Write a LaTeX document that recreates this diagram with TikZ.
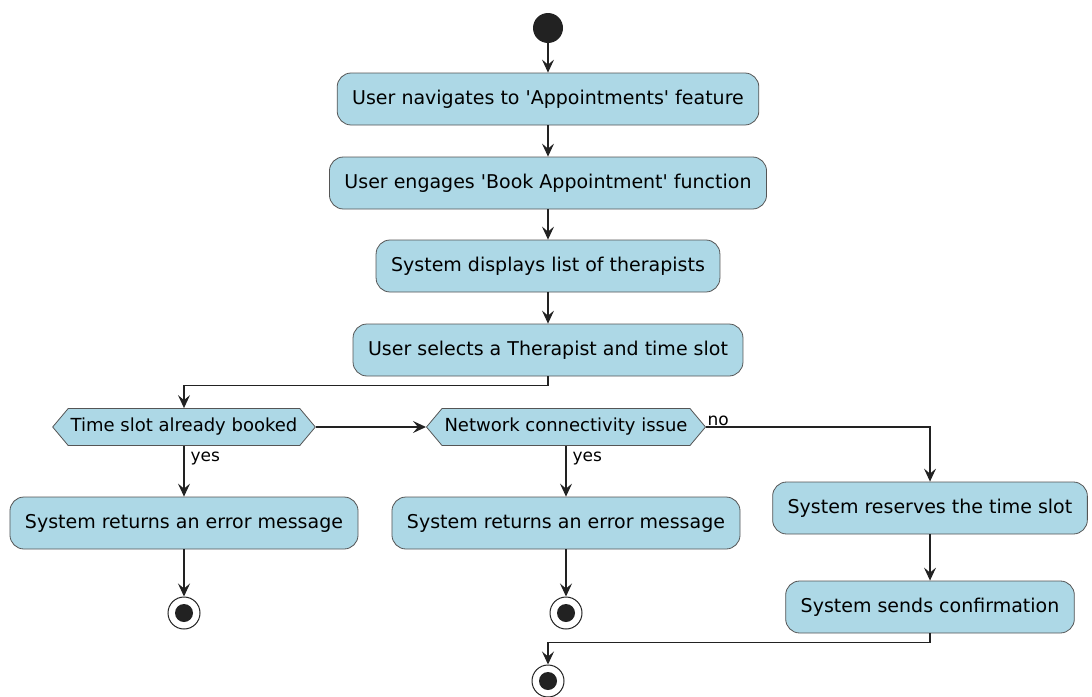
\documentclass[tikz,border=0pt]{standalone}
\usepackage{fontspec}
\setmainfont{DejaVu Sans}
\usetikzlibrary{arrows.meta,shapes.symbols}

\definecolor{actblue}{HTML}{ADD8E6}
\definecolor{actline}{HTML}{555555}
\definecolor{inkdark}{HTML}{222222}

\begin{document}
\begin{tikzpicture}[
    x=1pt, y=-1pt,
    action/.style={rectangle, rounded corners=14pt, draw=actline, line width=0.8pt, fill=actblue,
        minimum height=52pt, inner xsep=15pt, font=\fontsize{19}{23}\selectfont},
    decision/.style={signal, signal to=west and east, signal pointer angle=100, draw=actline,
        line width=0.8pt, fill=actblue, minimum height=37pt, inner xsep=2.5pt, inner ysep=0pt,
        font=\fontsize{18}{21}\selectfont},
    start/.style={circle, fill=inkdark, minimum size=30pt, inner sep=0pt},
    stop/.style={circle, draw=inkdark, line width=1pt, fill=white, minimum size=32pt, inner sep=0pt,
        path picture={\fill[inkdark] (path picture bounding box.center) circle (9pt);}},
    flow/.style={-{Stealth[length=13pt,width=12pt,inset=5pt]}, line width=1.1pt, draw=inkdark},
    guard/.style={font=\fontsize{17}{20}\selectfont, inner sep=2pt}
]
    \useasboundingbox (0,0) rectangle (1092,696);

    % Main line
    \node[start] (start) at (548,28) {};
    \node[action] (navigate) at (548,99) {User navigates to \textquotesingle Appointments\textquotesingle\ feature};
    \node[action] (engage) at (548,183) {User engages \textquotesingle Book Appointment\textquotesingle\ function};
    \node[action] (display) at (548,266) {System displays list of therapists};
    \node[action] (select) at (548,350) {User selects a Therapist and time slot};

    % Decisions
    \node[decision] (booked) at (184,427) {Time slot already booked};
    \node[decision] (network) at (566,427) {Network connectivity issue};

    % Outcomes
    \node[action] (err1) at (184,523) {System returns an error message};
    \node[action] (err2) at (566,523) {System returns an error message};
    \node[action] (reserve) at (930,508) {System reserves the time slot};
    \node[action] (confirm) at (930,607) {System sends confirmation};

    % Ends
    \node[stop] (stop1) at (184,613) {};
    \node[stop] (stop2) at (566,613) {};
    \node[stop] (stop3) at (548,681) {};

    % Flows
    \draw[flow] (start) -- (navigate);
    \draw[flow] (navigate) -- (engage);
    \draw[flow] (engage) -- (display);
    \draw[flow] (display) -- (select);
    \draw[flow] (select.south) -- ++(0,9) -| (booked.north);
    \draw[flow] (booked.east) -- (network.west);
    \draw[flow] (booked.south) -- node[guard, right, pos=0.25, xshift=4pt] {yes} (err1.north);
    \draw[flow] (network.south) -- node[guard, right, pos=0.25, xshift=4pt] {yes} (err2.north);
    \draw[flow] (network.east) node[guard, above right, inner sep=1pt] {no} -| (reserve.north);
    \draw[flow] (reserve) -- (confirm);
    \draw[flow] (err1) -- (stop1);
    \draw[flow] (err2) -- (stop2);
    \draw[flow] (confirm.south) -- ++(0,9) -| (stop3.north);
\end{tikzpicture}
\end{document}
